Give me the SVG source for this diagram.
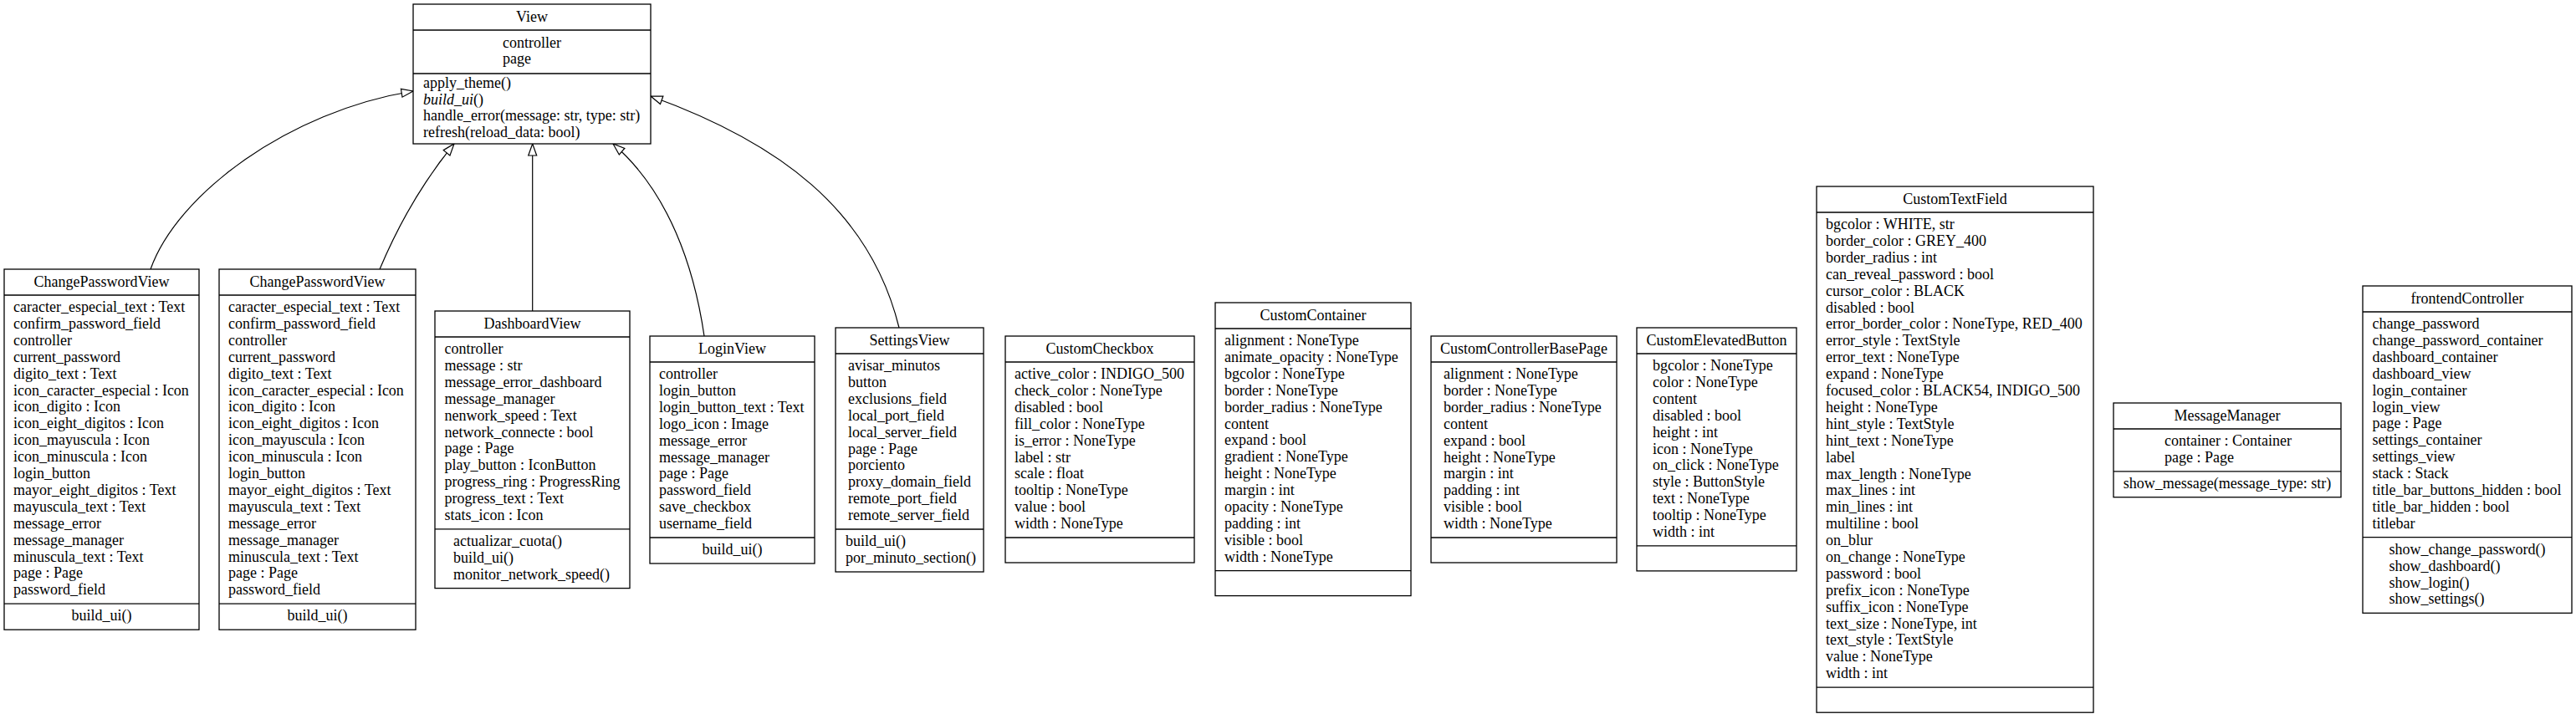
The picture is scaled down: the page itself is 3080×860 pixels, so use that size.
<svg xmlns="http://www.w3.org/2000/svg" width="3080" height="860" viewBox="0 0 3080 860">
<style>
.box{fill:#fff;stroke:#000;stroke-width:1.3}
.div{stroke:#000;stroke-width:1.3}
.t{font-family:"Liberation Serif","Times New Roman",serif;font-size:18px;fill:#000}
.c{text-anchor:middle}
.edge{fill:none;stroke:#000;stroke-width:1.2;marker-end:url(#inh)}
</style>
<defs>
<marker id="inh" markerWidth="18" markerHeight="14" refX="15" refY="7" orient="auto" markerUnits="userSpaceOnUse">
<path d="M1,2 L15,7 L1,12 Z" fill="#fff" stroke="#000" stroke-width="1.2"/>
</marker>
</defs>
<rect x="0" y="0" width="3080" height="860" fill="#fff"/>

<g id="connectors">
<path class="edge" d="M180,322 C212,232 345,133 494,109"/>
<path class="edge" d="M454,322 C478,265 510,212 543,172"/>
<path class="edge" d="M636.7,372 L636.7,172"/>
<path class="edge" d="M842,402 C830,320 800,230 733,172"/>
<path class="edge" d="M1075,392 C1040,250 930,170 778,115"/>
</g>

<g id="View">
<rect class="box" x="494" y="5" width="284" height="167"/>
<line class="div" x1="494" y1="36" x2="778" y2="36"/>
<line class="div" x1="494" y1="88" x2="778" y2="88"/>
<text class="t c" x="636" y="26">View</text>
<text class="t" x="601" y="56.5">controller<tspan x="601" dy="19.9">page</tspan></text>
<text class="t" x="506" y="105">apply_theme()<tspan x="506" dy="19.5" font-style="italic">build_ui</tspan>()<tspan x="506" dy="19.5">handle_error(message: str, type: str)</tspan><tspan x="506" dy="19.5">refresh(reload_data: bool)</tspan></text>
</g>

<g id="ChangePasswordView1">
<rect class="box" x="5" y="322" width="233" height="431.2"/>
<line class="div" x1="5" y1="353" x2="238" y2="353"/>
<line class="div" x1="5" y1="722.2" x2="238" y2="722.2"/>
<text class="t c" x="121.5" y="343">ChangePasswordView</text>
<text class="t" x="16" y="373">caracter_especial_text : Text<tspan x="16" dy="19.9">confirm_password_field</tspan><tspan x="16" dy="19.9">controller</tspan><tspan x="16" dy="19.9">current_password</tspan><tspan x="16" dy="19.9">digito_text : Text</tspan><tspan x="16" dy="19.9">icon_caracter_especial : Icon</tspan><tspan x="16" dy="19.9">icon_digito : Icon</tspan><tspan x="16" dy="19.9">icon_eight_digitos : Icon</tspan><tspan x="16" dy="19.9">icon_mayuscula : Icon</tspan><tspan x="16" dy="19.9">icon_minuscula : Icon</tspan><tspan x="16" dy="19.9">login_button</tspan><tspan x="16" dy="19.9">mayor_eight_digitos : Text</tspan><tspan x="16" dy="19.9">mayuscula_text : Text</tspan><tspan x="16" dy="19.9">message_error</tspan><tspan x="16" dy="19.9">message_manager</tspan><tspan x="16" dy="19.9">minuscula_text : Text</tspan><tspan x="16" dy="19.9">page : Page</tspan><tspan x="16" dy="19.9">password_field</tspan></text>
<text class="t c" x="121.5" y="742.2">build_ui()</text>
</g>

<g id="ChangePasswordView2">
<rect class="box" x="262" y="322" width="235" height="431.2"/>
<line class="div" x1="262" y1="353" x2="497" y2="353"/>
<line class="div" x1="262" y1="722.2" x2="497" y2="722.2"/>
<text class="t c" x="379.5" y="343">ChangePasswordView</text>
<text class="t" x="273" y="373">caracter_especial_text : Text<tspan x="273" dy="19.9">confirm_password_field</tspan><tspan x="273" dy="19.9">controller</tspan><tspan x="273" dy="19.9">current_password</tspan><tspan x="273" dy="19.9">digito_text : Text</tspan><tspan x="273" dy="19.9">icon_caracter_especial : Icon</tspan><tspan x="273" dy="19.9">icon_digito : Icon</tspan><tspan x="273" dy="19.9">icon_eight_digitos : Icon</tspan><tspan x="273" dy="19.9">icon_mayuscula : Icon</tspan><tspan x="273" dy="19.9">icon_minuscula : Icon</tspan><tspan x="273" dy="19.9">login_button</tspan><tspan x="273" dy="19.9">mayor_eight_digitos : Text</tspan><tspan x="273" dy="19.9">mayuscula_text : Text</tspan><tspan x="273" dy="19.9">message_error</tspan><tspan x="273" dy="19.9">message_manager</tspan><tspan x="273" dy="19.9">minuscula_text : Text</tspan><tspan x="273" dy="19.9">page : Page</tspan><tspan x="273" dy="19.9">password_field</tspan></text>
<text class="t c" x="379.5" y="742.2">build_ui()</text>
</g>

<g id="DashboardView">
<rect class="box" x="520" y="372" width="233" height="331.6"/>
<line class="div" x1="520" y1="403" x2="753" y2="403"/>
<line class="div" x1="520" y1="632.9" x2="753" y2="632.9"/>
<text class="t c" x="636.5" y="393">DashboardView</text>
<text class="t" x="531.5" y="423">controller<tspan x="531.5" dy="19.9">message : str</tspan><tspan x="531.5" dy="19.9">message_error_dashboard</tspan><tspan x="531.5" dy="19.9">message_manager</tspan><tspan x="531.5" dy="19.9">nenwork_speed : Text</tspan><tspan x="531.5" dy="19.9">network_connecte : bool</tspan><tspan x="531.5" dy="19.9">page : Page</tspan><tspan x="531.5" dy="19.9">play_button : IconButton</tspan><tspan x="531.5" dy="19.9">progress_ring : ProgressRing</tspan><tspan x="531.5" dy="19.9">progress_text : Text</tspan><tspan x="531.5" dy="19.9">stats_icon : Icon</tspan></text>
<text class="t" x="542" y="652.9">actualizar_cuota()<tspan x="542" dy="19.9">build_ui()</tspan><tspan x="542" dy="19.9">monitor_network_speed()</tspan></text>
</g>

<g id="LoginView">
<rect class="box" x="777" y="402" width="197" height="272"/>
<line class="div" x1="777" y1="433" x2="974" y2="433"/>
<line class="div" x1="777" y1="643" x2="974" y2="643"/>
<text class="t c" x="875.5" y="423">LoginView</text>
<text class="t" x="788" y="453">controller<tspan x="788" dy="19.9">login_button</tspan><tspan x="788" dy="19.9">login_button_text : Text</tspan><tspan x="788" dy="19.9">logo_icon : Image</tspan><tspan x="788" dy="19.9">message_error</tspan><tspan x="788" dy="19.9">message_manager</tspan><tspan x="788" dy="19.9">page : Page</tspan><tspan x="788" dy="19.9">password_field</tspan><tspan x="788" dy="19.9">save_checkbox</tspan><tspan x="788" dy="19.9">username_field</tspan></text>
<text class="t c" x="875.5" y="663">build_ui()</text>
</g>

<g id="SettingsView">
<rect class="box" x="999" y="392" width="177" height="292"/>
<line class="div" x1="999" y1="423" x2="1176" y2="423"/>
<line class="div" x1="999" y1="633" x2="1176" y2="633"/>
<text class="t c" x="1087.5" y="413">SettingsView</text>
<text class="t" x="1014" y="443">avisar_minutos<tspan x="1014" dy="19.9">button</tspan><tspan x="1014" dy="19.9">exclusions_field</tspan><tspan x="1014" dy="19.9">local_port_field</tspan><tspan x="1014" dy="19.9">local_server_field</tspan><tspan x="1014" dy="19.9">page : Page</tspan><tspan x="1014" dy="19.9">porciento</tspan><tspan x="1014" dy="19.9">proxy_domain_field</tspan><tspan x="1014" dy="19.9">remote_port_field</tspan><tspan x="1014" dy="19.9">remote_server_field</tspan></text>
<text class="t" x="1011" y="653">build_ui()<tspan x="1011" dy="19.9">por_minuto_section()</tspan></text>
</g>

<g id="CustomCheckbox">
<rect class="box" x="1202" y="402" width="226" height="271"/>
<line class="div" x1="1202" y1="433" x2="1428" y2="433"/>
<line class="div" x1="1202" y1="643" x2="1428" y2="643"/>
<text class="t c" x="1315" y="423">CustomCheckbox</text>
<text class="t" x="1213" y="453">active_color : INDIGO_500<tspan x="1213" dy="19.9">check_color : NoneType</tspan><tspan x="1213" dy="19.9">disabled : bool</tspan><tspan x="1213" dy="19.9">fill_color : NoneType</tspan><tspan x="1213" dy="19.9">is_error : NoneType</tspan><tspan x="1213" dy="19.9">label : str</tspan><tspan x="1213" dy="19.9">scale : float</tspan><tspan x="1213" dy="19.9">tooltip : NoneType</tspan><tspan x="1213" dy="19.9">value : bool</tspan><tspan x="1213" dy="19.9">width : NoneType</tspan></text>
</g>

<g id="CustomContainer">
<rect class="box" x="1453" y="362" width="234" height="350.6"/>
<line class="div" x1="1453" y1="393" x2="1687" y2="393"/>
<line class="div" x1="1453" y1="682.6" x2="1687" y2="682.6"/>
<text class="t c" x="1570" y="383">CustomContainer</text>
<text class="t" x="1464" y="413">alignment : NoneType<tspan x="1464" dy="19.9">animate_opacity : NoneType</tspan><tspan x="1464" dy="19.9">bgcolor : NoneType</tspan><tspan x="1464" dy="19.9">border : NoneType</tspan><tspan x="1464" dy="19.9">border_radius : NoneType</tspan><tspan x="1464" dy="19.9">content</tspan><tspan x="1464" dy="19.9">expand : bool</tspan><tspan x="1464" dy="19.9">gradient : NoneType</tspan><tspan x="1464" dy="19.9">height : NoneType</tspan><tspan x="1464" dy="19.9">margin : int</tspan><tspan x="1464" dy="19.9">opacity : NoneType</tspan><tspan x="1464" dy="19.9">padding : int</tspan><tspan x="1464" dy="19.9">visible : bool</tspan><tspan x="1464" dy="19.9">width : NoneType</tspan></text>
</g>

<g id="CustomControllerBasePage">
<rect class="box" x="1711" y="402" width="222" height="271"/>
<line class="div" x1="1711" y1="433" x2="1933" y2="433"/>
<line class="div" x1="1711" y1="643" x2="1933" y2="643"/>
<text class="t c" x="1822" y="423">CustomControllerBasePage</text>
<text class="t" x="1726" y="453">alignment : NoneType<tspan x="1726" dy="19.9">border : NoneType</tspan><tspan x="1726" dy="19.9">border_radius : NoneType</tspan><tspan x="1726" dy="19.9">content</tspan><tspan x="1726" dy="19.9">expand : bool</tspan><tspan x="1726" dy="19.9">height : NoneType</tspan><tspan x="1726" dy="19.9">margin : int</tspan><tspan x="1726" dy="19.9">padding : int</tspan><tspan x="1726" dy="19.9">visible : bool</tspan><tspan x="1726" dy="19.9">width : NoneType</tspan></text>
</g>

<g id="CustomElevatedButton">
<rect class="box" x="1957" y="392" width="191" height="290.9"/>
<line class="div" x1="1957" y1="423" x2="2148" y2="423"/>
<line class="div" x1="1957" y1="652.9" x2="2148" y2="652.9"/>
<text class="t c" x="2052.5" y="413">CustomElevatedButton</text>
<text class="t" x="1976" y="443">bgcolor : NoneType<tspan x="1976" dy="19.9">color : NoneType</tspan><tspan x="1976" dy="19.9">content</tspan><tspan x="1976" dy="19.9">disabled : bool</tspan><tspan x="1976" dy="19.9">height : int</tspan><tspan x="1976" dy="19.9">icon : NoneType</tspan><tspan x="1976" dy="19.9">on_click : NoneType</tspan><tspan x="1976" dy="19.9">style : ButtonStyle</tspan><tspan x="1976" dy="19.9">text : NoneType</tspan><tspan x="1976" dy="19.9">tooltip : NoneType</tspan><tspan x="1976" dy="19.9">width : int</tspan></text>
</g>

<g id="CustomTextField">
<rect class="box" x="2172" y="223" width="331" height="629.2"/>
<line class="div" x1="2172" y1="254" x2="2503" y2="254"/>
<line class="div" x1="2172" y1="822.2" x2="2503" y2="822.2"/>
<text class="t c" x="2337.5" y="244">CustomTextField</text>
<text class="t" x="2183" y="274">bgcolor : WHITE, str<tspan x="2183" dy="19.9">border_color : GREY_400</tspan><tspan x="2183" dy="19.9">border_radius : int</tspan><tspan x="2183" dy="19.9">can_reveal_password : bool</tspan><tspan x="2183" dy="19.9">cursor_color : BLACK</tspan><tspan x="2183" dy="19.9">disabled : bool</tspan><tspan x="2183" dy="19.9">error_border_color : NoneType, RED_400</tspan><tspan x="2183" dy="19.9">error_style : TextStyle</tspan><tspan x="2183" dy="19.9">error_text : NoneType</tspan><tspan x="2183" dy="19.9">expand : NoneType</tspan><tspan x="2183" dy="19.9">focused_color : BLACK54, INDIGO_500</tspan><tspan x="2183" dy="19.9">height : NoneType</tspan><tspan x="2183" dy="19.9">hint_style : TextStyle</tspan><tspan x="2183" dy="19.9">hint_text : NoneType</tspan><tspan x="2183" dy="19.9">label</tspan><tspan x="2183" dy="19.9">max_length : NoneType</tspan><tspan x="2183" dy="19.9">max_lines : int</tspan><tspan x="2183" dy="19.9">min_lines : int</tspan><tspan x="2183" dy="19.9">multiline : bool</tspan><tspan x="2183" dy="19.9">on_blur</tspan><tspan x="2183" dy="19.9">on_change : NoneType</tspan><tspan x="2183" dy="19.9">password : bool</tspan><tspan x="2183" dy="19.9">prefix_icon : NoneType</tspan><tspan x="2183" dy="19.9">suffix_icon : NoneType</tspan><tspan x="2183" dy="19.9">text_size : NoneType, int</tspan><tspan x="2183" dy="19.9">text_style : TextStyle</tspan><tspan x="2183" dy="19.9">value : NoneType</tspan><tspan x="2183" dy="19.9">width : int</tspan></text>
</g>

<g id="MessageManager">
<rect class="box" x="2527" y="482" width="272" height="112.7"/>
<line class="div" x1="2527" y1="513" x2="2799" y2="513"/>
<line class="div" x1="2527" y1="563.8" x2="2799" y2="563.8"/>
<text class="t c" x="2663" y="503">MessageManager</text>
<text class="t" x="2588" y="533">container : Container<tspan x="2588" dy="19.9">page : Page</tspan></text>
<text class="t c" x="2663" y="583.8">show_message(message_type: str)</text>
</g>

<g id="frontendController">
<rect class="box" x="2825" y="342" width="250" height="391.3"/>
<line class="div" x1="2825" y1="373" x2="3075" y2="373"/>
<line class="div" x1="2825" y1="642.7" x2="3075" y2="642.7"/>
<text class="t c" x="2950" y="363">frontendController</text>
<text class="t" x="2836.5" y="393">change_password<tspan x="2836.5" dy="19.9">change_password_container</tspan><tspan x="2836.5" dy="19.9">dashboard_container</tspan><tspan x="2836.5" dy="19.9">dashboard_view</tspan><tspan x="2836.5" dy="19.9">login_container</tspan><tspan x="2836.5" dy="19.9">login_view</tspan><tspan x="2836.5" dy="19.9">page : Page</tspan><tspan x="2836.5" dy="19.9">settings_container</tspan><tspan x="2836.5" dy="19.9">settings_view</tspan><tspan x="2836.5" dy="19.9">stack : Stack</tspan><tspan x="2836.5" dy="19.9">title_bar_buttons_hidden : bool</tspan><tspan x="2836.5" dy="19.9">title_bar_hidden : bool</tspan><tspan x="2836.5" dy="19.9">titlebar</tspan></text>
<text class="t" x="2856.5" y="662.7">show_change_password()<tspan x="2856.5" dy="19.9">show_dashboard()</tspan><tspan x="2856.5" dy="19.9">show_login()</tspan><tspan x="2856.5" dy="19.9">show_settings()</tspan></text>
</g>
</svg>
